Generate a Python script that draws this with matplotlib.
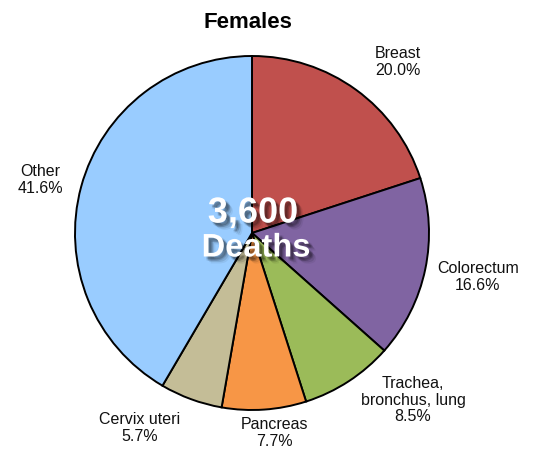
import matplotlib
matplotlib.use("Agg")
import matplotlib.pyplot as plt
import matplotlib.patheffects as pe

plt.rcParams['font.family'] = ['Liberation Sans', 'DejaVu Sans']

categories = ["Breast", "Colorectum", "Trachea,\nbronchus, lung", "Pancreas", "Cervix uteri", "Other"]
values = [20.0, 16.6, 8.5, 7.7, 5.7, 41.6]
colors = ["#C0504D", "#8064A2", "#9BBB59", "#F79646", "#C4BD97", "#99CCFF"]
title = "Females"
total_text = "3,600"
unit_text = "Deaths"

# label positions in pixel coordinates (x, y from top)
label_pos = [(398, 62), (478, 277), (413, 400), (274, 433), (140, 428), (40, 180)]

W, H = 540, 451
fig = plt.figure(figsize=(W / 100, H / 100), dpi=100)
ax = fig.add_axes([0, 0, 1, 1])

cx, cy, r = 252, H - 233, 177
ax.pie(values, colors=colors, startangle=90, counterclock=False,
       center=(cx, cy), radius=r, frame=True,
       wedgeprops=dict(edgecolor='black', linewidth=1.4))
ax.set_xlim(0, W)
ax.set_ylim(0, H)
ax.set_aspect('equal')
ax.axis('off')

for cat, v, (x, y) in zip(categories, values, label_pos):
    ax.text(x, H - y, f"{cat}\n{v:.1f}%", ha='center', va='center',
            fontsize=11.5, color='#111111', linespacing=1.15)

ax.text(248, H - 23, title, ha='center', va='center', fontsize=16, fontweight='bold')

shadow = []
for dx, dy, a in [(3, -3, 0.12), (2, -2, 0.15), (4, -4, 0.1), (3, -2, 0.1), (2, -3, 0.1), (5, -5, 0.06)]:
    shadow.append(pe.SimplePatchShadow(offset=(dx, dy), shadow_rgbFace='black', alpha=a))
shadow.append(pe.Normal())
ax.text(253, H - 213, total_text, ha='center', va='center', fontsize=26,
        fontweight='bold', color='white', path_effects=shadow)
ax.text(256, H - 248, unit_text, ha='center', va='center', fontsize=23.5,
        fontweight='bold', color='white', path_effects=shadow)

fig.savefig("out.png", dpi=100)
